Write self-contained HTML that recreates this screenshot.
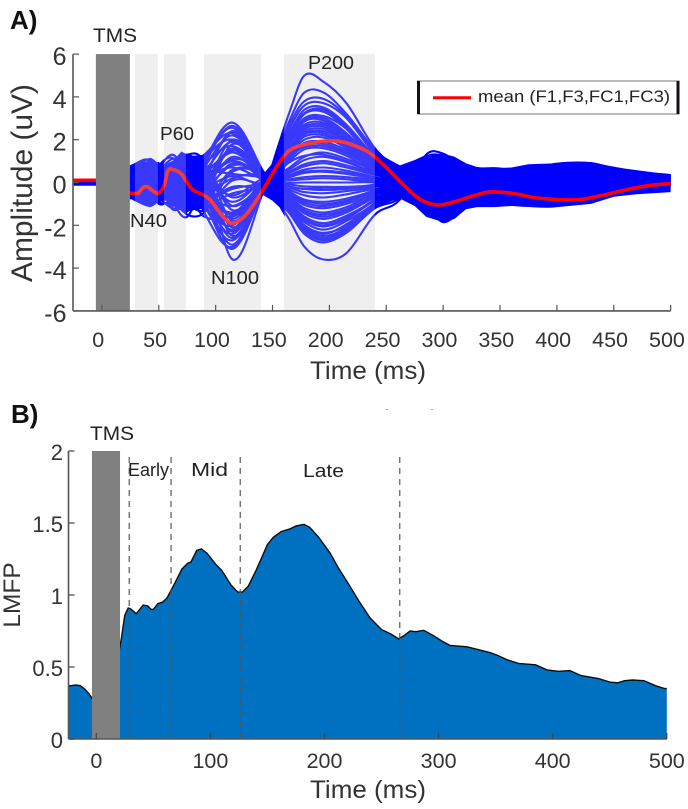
<!DOCTYPE html>
<html lang="en">
<head>
<meta charset="utf-8">
<title>TMS evoked potentials and LMFP</title>
<style>
html,body{margin:0;padding:0;background:#fff;width:688px;height:809px;overflow:hidden}
svg{display:block;filter:blur(.35px)}
text{font-family:"Liberation Sans",sans-serif;fill:#333}
.note{fill:#222}
</style>
</head>
<body>
<svg id="fig" xmlns="http://www.w3.org/2000/svg" width="688" height="809" viewBox="0 0 688 809">
  <g id="a-bands-back"></g>
  <g id="a-envelope"></g>
  <g id="a-channels"></g>
  <g id="a-mean"></g>
  <g id="a-bands-front"></g>
  <g id="a-tms"></g>
  <g id="a-axes"></g>

  <g id="b-area"></g>
  <g id="b-tms"></g>
  <g id="b-dash"></g>
  <g id="b-axes"></g>

  <text x="10" y="29" font-size="26" font-weight="bold" style="fill:#111">A)</text>
  <text x="11" y="423" font-size="26" font-weight="bold" style="fill:#111">B)</text>

  <text transform="translate(32,183) rotate(-90)" text-anchor="middle" font-size="30" textLength="198" lengthAdjust="spacingAndGlyphs">Amplitude (uV)</text>
  <text x="310" y="379" font-size="25" textLength="116" lengthAdjust="spacingAndGlyphs">Time (ms)</text>
  <text transform="translate(20,595) rotate(-90)" text-anchor="middle" font-size="24.5">LMFP</text>
  <text x="310" y="798" font-size="25" textLength="116" lengthAdjust="spacingAndGlyphs">Time (ms)</text>

  <text class="note" x="93" y="42" font-size="19.5" textLength="44" lengthAdjust="spacingAndGlyphs">TMS</text>
  <text class="note" x="308" y="69" font-size="18" textLength="46" lengthAdjust="spacingAndGlyphs">P200</text>
  <text class="note" x="160" y="140" font-size="18" textLength="34" lengthAdjust="spacingAndGlyphs">P60</text>
  <text class="note" x="130" y="227" font-size="18" textLength="37" lengthAdjust="spacingAndGlyphs">N40</text>
  <text class="note" x="211" y="284" font-size="18" textLength="48" lengthAdjust="spacingAndGlyphs">N100</text>

  <g>
    <rect x="417.5" y="81" width="261.5" height="33" fill="#fff" stroke="#777" stroke-width="1"></rect>
    <rect x="417" y="81" width="3" height="33" fill="#1a0f0f"></rect>
    <rect x="676.5" y="81" width="3" height="33" fill="#1a0f0f"></rect>
    <line x1="433" y1="97.7" x2="471" y2="97.7" stroke="#f00" stroke-width="3"></line>
    <text class="note" x="478" y="102" font-size="17" textLength="192" lengthAdjust="spacingAndGlyphs">mean (F1,F3,FC1,FC3)</text>
  </g>

  <text class="note" x="90" y="440" font-size="19.5" textLength="44" lengthAdjust="spacingAndGlyphs">TMS</text>
  <text class="note" x="128" y="476" font-size="18" textLength="41" lengthAdjust="spacingAndGlyphs">Early</text>
  <text class="note" x="191" y="476" font-size="18" textLength="37" lengthAdjust="spacingAndGlyphs">Mid</text>
  <text class="note" x="303" y="477" font-size="18" textLength="41" lengthAdjust="spacingAndGlyphs">Late</text>

  <rect x="386" y="409" width="2" height="1" fill="#aaa"></rect>
  <rect x="431" y="409" width="2" height="1" fill="#aaa"></rect>
</svg>
<script>
// Panel A data
const aXTicks = [0,50,100,150,200,250,300,350,400,450,500];
const aYTicks = [-6,-4,-2,0,2,4,6];
const aBandStart = [29,54.5,89.7,160];
const aBandEnd = [49.2,73.8,139.8,240];
const aTmsWindow = [-5.3,24.6];
// solid portions of the channel bundle: upper and lower edges
const earlyEnvT = [24.6,35,42,50,58,62,70,75,80,90,93];
const earlyEnvUp = [.7,.8,1.1,.85,.9,1.0,1.45,1.3,1.25,1.3,1.3];
const earlyEnvLo = [-.7,-.7,-1.1,-.85,-.85,-1.0,-1.2,-1.25,-1.25,-1.25,-1.25];
const midEnvT = [139,142,150,156,161];
const midEnvUp = [.6,.4,.9,1.1,1.2];
const midEnvLo = [-.6,-.6,-.85,-1.15,-1.6];
const lateEnvT = [245,255,262,275,285,300,310,320,330,345,360,375,400,430,450,470,500];
const lateEnvUp = [1.3,1.0,.8,1.05,1.3,1.35,1.2,.9,.72,.67,.7,.85,.9,.8,.6,.45,.35];
const lateEnvLo = [-1.1,-.85,-.75,-1.1,-1.6,-1.85,-1.7,-1.25,-1.15,-1.15,-1.1,-1.05,-1.15,-1.0,-.67,-.55,-.45];
const channelT = [24.6,42,50,62,75,90,115,142,155,165,178,195,215,240,262,285,300,320,345,375,400,430,460,500];
// each row: pre-stimulus level, then one amplitude per channelT entry
const channels = [
[.08,-.3,-.8,-.6,.6,1.3,.9,-3.6,-.4,1.7,3.3,5.0,4.7,3.7,1.6,.5,-.9,-1.3,-1.0,-.7,-.7,-.8,-.6,-.3,-.05],
[.06,-.5,-.9,-.4,.8,1.1,-.9,-3.1,-.3,1.5,2.9,4.2,4.2,3.2,1.5,.3,-1.1,-1.5,-1.1,-.8,-.8,-.9,-.7,-.4,-.1],
[.02,-.1,-.5,-.2,.5,.9,-1.4,-3.0,-.2,1.3,2.7,3.8,3.9,3.1,1.4,.4,-.9,-1.85,-1.15,-.9,-.9,-1.0,-.65,-.45,-.2],
[-.03,-.6,-1.0,-.7,.2,.6,-1.1,-2.7,-.4,1.1,2.5,3.6,3.7,3.0,1.3,.2,-1.2,-1.6,-1.1,-1.0,-1.1,-1.1,-.6,-.4,-.3],
[.05,.2,.4,.3,.9,1.2,-.4,-2.6,-.3,1.2,2.3,3.4,3.5,2.7,1.2,.3,-.6,-1.0,-.8,-.6,-.5,-.6,-.5,-.2,.0],
[-.02,-.4,.2,-.3,.3,.4,-.8,-2.4,-.1,1.1,2.1,3.2,3.3,2.5,1.0,.2,-.7,-1.3,-.95,-.75,-.7,-.8,-.6,-.3,-.1],
[.04,.3,.5,.6,1.1,.9,.2,-2.3,.1,1.0,2.0,3.0,3.1,2.5,1.1,.4,-.3,-.8,-.6,-.4,-.3,-.45,-.3,-.1,.1],
[-.05,-.2,-.3,.1,.2,.1,-.6,-2.2,-.2,.9,1.9,2.9,3.0,2.3,1.0,.1,-.9,-1.4,-.85,-.65,-.6,-.7,-.55,-.35,-.15],
[.03,.6,1.1,.85,.9,1.3,.6,-2.1,.2,.9,1.8,2.7,2.8,2.2,1.0,.3,-.4,-.7,-.5,-.3,-.2,-.3,-.2,0,.15],
[-.08,-.6,-.5,-.8,-.4,-.2,-1.2,-2.0,-.1,.8,1.6,2.5,2.6,2.0,.9,.2,-.5,-1.1,-.7,-.55,-.5,-.6,-.45,-.25,-.05],
[.02,.1,-.2,.2,.5,.7,-.3,-1.9,.0,.7,1.5,2.3,2.4,1.9,.8,.1,-.6,-1.0,-.6,-.45,-.4,-.5,-.35,-.15,.05],
[-.04,.5,.7,.5,.7,1.0,.3,-1.7,.15,.75,1.5,2.25,2.3,1.8,.75,.35,-.2,-.6,-.35,-.25,-.1,-.2,-.1,.1,.2],
[.01,-.3,-.7,-.5,-.1,.1,-.9,-1.6,-.2,.6,1.3,2.0,2.1,1.6,.7,.05,-.7,-.9,-.55,-.4,-.35,-.4,-.3,-.2,-.05],
[.06,-.7,-1.1,-.85,-.6,-.5,-1.6,-1.5,.1,.55,1.2,1.85,1.9,1.5,.6,.15,-.35,-.75,-.45,-.3,-.25,-.3,-.2,-.05,.1],
[-.06,.0,.1,-.1,.1,.3,-.5,-1.4,-.1,.5,1.1,1.75,1.8,1.4,.55,.0,-.55,-.85,-.5,-.35,-.3,-.35,-.25,-.1,.02],
[.03,.35,.3,.7,1.3,.6,.8,-1.3,.05,.45,1.0,1.55,1.6,1.25,.5,.2,-.1,-.5,-.25,-.15,-.05,-.1,.0,.1,.25],
[-.02,-.15,-.4,-.35,-.25,-.4,-.6,-1.1,-.15,.35,.7,1.2,1.4,1.1,.55,.05,-.3,-.45,-.55,-.35,-.25,-.2,-.25,-.15,.0],
[.04,.45,.8,.4,.4,.5,.2,-.9,.1,.3,.6,1.05,1.2,.95,.45,.1,-.1,-.2,-.3,-.15,-.05,.05,.0,.05,.2],
[-.07,-.45,-.3,-.6,-.9,-1.0,-.8,-1.4,-.2,.25,.5,.85,1.0,.8,.4,-.1,-.25,-.35,-.5,-.3,-.2,-.15,-.15,-.1,.05],
[.05,.15,.0,.35,.65,.2,.1,-.6,.2,.2,.45,.75,.9,.7,.35,.15,.05,.05,-.2,-.1,.0,.1,.1,.12,.25],
[-.01,-.25,-.6,-.15,-.5,-.7,-.9,-.3,-.05,.15,.35,.6,.7,.55,.25,-.05,-.15,-.25,-.4,-.2,-.1,-.05,.02,.0,.1],
[.07,.7,.95,.75,.5,.8,.6,.4,.25,.15,.25,.45,.5,.4,.2,.2,.2,.2,-.05,.05,.1,.2,.2,.22,.28],
[-.03,-.05,-.15,-.45,-.75,-.9,-1.1,-.5,-.25,.05,.15,.25,.3,.25,.1,-.15,-.1,-.1,-.25,-.1,.02,.05,.1,.08,.15],
[.02,.25,.6,.1,.05,.25,.3,.7,.15,.05,.1,.15,.2,.15,.05,.1,.3,.3,.1,.15,.2,.3,.3,.3,.32],
[-.09,-.35,-.8,-.75,-1.2,-1.1,-1.3,.1,-.1,-.05,-.02,.0,.0,.0,.0,-.2,-.05,.05,-.1,.02,.08,.15,.2,.15,.05],
[.04,.4,.2,.55,.0,.0,.1,1.0,.3,-.1,-.1,-.18,-.2,-.2,-.1,.25,.4,.45,.25,.25,.3,.4,.42,.38,.3],
[-.04,-.55,-.65,-.95,-1.0,-1.3,-1.0,-.2,-.3,-.12,-.2,-.3,-.35,-.3,-.15,-.1,.1,.2,.0,.1,.18,.25,.3,.25,.1],
[.01,.55,.35,.8,.15,-.3,-.2,1.2,.25,-.15,-.25,-.45,-.5,-.4,-.2,.2,.5,.55,.35,.3,.35,.5,.55,.45,.3],
[-.06,-.65,-.2,-1.0,-.8,-.75,-.6,.2,.35,-.2,-.35,-.6,-.7,-.55,-.3,-.2,.15,.3,.15,.15,.22,.3,.38,.3,.15],
[.03,.05,.55,.25,-.3,.4,.5,1.4,.3,-.25,-.45,-.8,-.9,-.75,-.35,.3,.6,.65,.45,.38,.4,.55,.62,.5,.25],
[-.05,-.7,-.95,-.5,-.65,-1.5,-1.4,.5,.4,-.3,-.55,-.95,-1.1,-.9,-.45,-.25,.25,.4,.2,.2,.28,.38,.45,.35,.2],
[.06,.65,.75,.05,-1.1,-.1,.1,1.6,.35,-.35,-.6,-1.05,-1.2,-1.0,-.5,.25,.7,.75,.55,.42,.45,.6,.68,.52,.3],
[-.02,-.2,.05,-.25,-.45,-.6,-.3,.8,.45,-.4,-.7,-1.2,-1.4,-1.15,-.55,-.3,.35,.5,.3,.25,.32,.45,.5,.38,.18],
[.02,.3,.45,.45,-.75,-1.05,-.7,1.8,.4,-.45,-.8,-1.35,-1.6,-1.3,-.65,.35,.8,.85,.6,.48,.5,.68,.75,.55,.33],
[-.1,-.75,-.45,-.7,-.2,-.35,.1,1.1,.5,-.45,-.85,-1.45,-1.7,-1.4,-.7,-.35,.45,.7,.4,.3,.38,.55,.58,.42,.22],
[.05,.1,-.05,.65,-.95,-1.2,-.3,2.0,.45,-.5,-.95,-1.6,-1.9,-1.55,-.8,.3,.9,.95,.6,.5,.55,.75,.8,.58,.3],
[-.07,-.1,-.85,-.3,-.35,.0,.4,1.4,.5,-.55,-1.0,-1.75,-2.05,-1.7,-.85,-.4,.55,.8,.5,.35,.42,.6,.65,.48,.25],
[.01,.2,.65,.15,-1.25,-.8,.7,2.2,.5,-.6,-1.1,-1.85,-2.2,-1.8,-.95,.2,1.0,1.05,.65,.55,.6,.8,.85,.6,.32],
[-.03,-.35,-.35,-.9,-.05,.2,.9,1.7,.45,-.65,-1.15,-2.0,-2.4,-1.95,-1.0,-.5,.7,.9,.55,.4,.45,.68,.72,.5,.2],
[.03,.5,.15,.9,-.85,-1.6,.2,2.4,.5,-.7,-1.25,-2.1,-2.5,-2.1,-1.05,.1,1.1,1.15,.7,.6,.62,.85,.88,.55,.35],
[-.04,-.5,-.75,-.05,.35,-.25,1.1,2.0,.4,-.75,-1.3,-2.2,-2.6,-2.15,-1.1,-.6,.85,1.0,.6,.45,.5,.72,.8,.5,.28],
[.02,.7,.9,.6,-.55,-1.35,.8,2.65,.5,-.8,-1.4,-2.3,-2.7,-2.25,-1.15,.0,1.2,1.25,.75,.62,.6,.88,.9,.52,.3],
[-.05,.0,-.2,-.55,.1,.5,1.3,2.3,.45,-.85,-1.45,-2.4,-2.8,-2.35,-1.2,-.7,1.0,1.1,.65,.5,.55,.75,.85,.48,.22],
[.0,.75,1.05,.2,-.15,-1.0,1.0,2.8,.5,-.9,-1.75,-3.0,-3.6,-3.3,-1.5,-.8,1.3,1.35,.7,.67,.55,.8,.9,.5,.34],
[.05,.25,-.4,.75,1.15,.3,.9,-1.8,.1,.95,1.8,2.6,2.7,2.1,.95,.25,-.55,-.85,-.6,-.4,-.3,-.35,-.3,-.1,.08],
[-.02,-.1,.35,-.05,.55,-.4,.5,-2.5,-.1,1.0,1.85,2.85,2.9,2.25,1.0,.15,-.75,-1.1,-.8,-.55,-.5,-.55,-.45,-.2,-.05],
[.03,.45,.05,.45,.95,.75,-.2,-1.5,.0,.85,1.65,2.4,2.5,1.95,.85,.3,-.3,-.65,-.45,-.25,-.2,-.3,-.2,-.02,.12],
[-.06,-.55,-.25,-.2,.05,.55,-.7,-2.9,-.2,1.15,2.2,3.25,3.4,2.6,1.15,.2,-1.0,-1.25,-.9,-.7,-.65,-.7,-.6,-.3,-.12],
[.01,.15,.55,.35,.3,.15,.7,-1.1,.05,.75,1.4,2.15,2.2,1.7,.7,.25,-.25,-.55,-.35,-.2,-.1,-.15,-.05,.05,.18],
[-.03,-.25,-.55,.0,-.15,.05,-.1,-2.3,-.1,.6,1.2,1.65,1.7,1.35,.6,.0,-.6,-.85,-.65,-.45,-.4,-.45,-.35,-.2,-.02],
[.02,.35,-.1,.15,.75,-.15,.45,-.7,.1,.5,.95,1.25,1.3,1.0,.45,.1,-.2,-.3,-.4,-.2,-.1,-.05,-.05,.05,.15],
[-.04,-.4,.15,-.65,-.55,.35,-.15,.3,-.15,.1,.3,.5,.55,.45,.2,-.1,-.05,.0,-.15,-.05,.05,.1,.12,.1,.18],
[.03,.6,.45,.65,.25,-.55,-.45,.9,.2,-.1,-.2,-.3,-.25,-.25,-.1,.15,.3,.35,.2,.2,.28,.35,.35,.3,.25],
[-.02,.05,-.5,-.85,-.6,-.2,.0,1.5,.35,-.3,-.55,-.85,-1.0,-.85,-.4,-.2,.5,.6,.35,.32,.35,.5,.48,.4,.15],
[.04,-.6,.85,.3,-.4,-.65,-.9,.6,.45,-.4,-.75,-1.3,-1.5,-1.25,-.6,.2,.65,.75,.5,.42,.48,.62,.6,.45,.3],
[-.05,.3,-.75,.5,-.1,.1,.55,1.9,.4,-.55,-1.0,-1.7,-2.0,-1.65,-.8,-.35,.75,.85,.55,.4,.5,.7,.75,.5,.26],
[.02,-.3,.25,-.4,.2,-.95,.3,2.35,.5,-.65,-1.2,-2.0,-2.35,-2.0,-.95,.05,.95,1.05,.65,.55,.58,.78,.82,.55,.3],
[-.01,.55,-.65,.7,-.7,.75,1.2,2.55,.45,-.8,-1.35,-2.25,-2.65,-2.2,-1.1,-.5,1.05,1.15,.6,.58,.6,.82,.86,.5,.32]
];
const meanT = [24.6,32,36,40,45,50,55,58,63,70,75,80,88,95,105,114,125,135,145,155,165,180,200,215,235,250,265,280,295,310,325,340,360,380,400,420,440,460,480,500];
const meanV = [-.5,-.5,-.25,-.2,-.4,-.5,-.1,.55,.6,.4,.0,-.35,-.55,-.8,-1.5,-1.9,-1.6,-.9,-.05,.85,1.5,1.8,1.95,1.85,1.4,.7,-.1,-.8,-1.05,-.9,-.65,-.45,-.5,-.7,-.8,-.8,-.6,-.35,-.15,-.05];
const meanPre = 0.1;

// Panel B data
const bXTicks = [0,100,200,300,400,500];
const bYTicks = [0,0.5,1,1.5,2];
const bYTickLabels = ["0","0.5","1","1.5","2"];
const bTmsWindow = [-3.8,20.8];
const bDividers = [28.9,65.5,126.2,265.9];
const lmfpT = [-24.4,-22,-18,-14,-10,-6,-4,20,22,25,28,30,35,38,41,45,48,50,54,58,62,68,75,80,83,88,92,97,105,110,118,124,128,133,140,150,155,162,170,175,182,187,195,205,212,220,230,240,250,258,265,270,275,280,287,295,303,310,325,335,345,352,360,370,385,395,405,415,425,440,450,457,463,470,480,490,498,500];
const lmfpV = [.37,.37,.375,.37,.345,.31,.285,.61,.7,.86,.91,.905,.87,.9,.93,.925,.9,.9,.94,.95,.98,1.07,1.18,1.22,1.23,1.31,1.32,1.29,1.21,1.17,1.07,1.02,1.02,1.06,1.17,1.35,1.4,1.44,1.46,1.48,1.49,1.47,1.4,1.29,1.19,1.09,.96,.84,.76,.73,.695,.72,.75,.745,.755,.72,.68,.65,.64,.62,.6,.58,.55,.525,.515,.48,.47,.475,.44,.42,.395,.39,.405,.41,.405,.37,.35,.35];

// Axis functions
const aX = t => 101.9 + 1.1375 * t;
const aY = v => 182.5 - 21.4 * v;
const bX = t => 96.3 + 1.141 * t;
const bY = v => 739 - 144 * v;
const aLeft = 73, aRight = aX(500), aTop = aY(6), aBottom = aY(-6);
const bLeft = 68.5, bRight = bX(500), bTop = bY(2), bBottom = bY(0);

const NS = 'http://www.w3.org/2000/svg';
function make(tag, attrs, parent) {
  const el = document.createElementNS(NS, tag);
  for (const k in attrs) el.setAttribute(k, attrs[k]);
  parent.appendChild(el);
  return el;
}
function smoothPath(xs, ys) {
  const slope = i => {
    const a = Math.max(0, i - 1), b = Math.min(xs.length - 1, i + 1);
    return (ys[b] - ys[a]) / (xs[b] - xs[a]);
  };
  let d = `L${xs[0].toFixed(1)} ${ys[0].toFixed(1)}`;
  for (let i = 0; i < xs.length - 1; i++) {
    const h = xs[i + 1] - xs[i];
    const c1y = ys[i] + slope(i) * h / 3, c2y = ys[i + 1] - slope(i + 1) * h / 3;
    d += `C${(xs[i] + h / 3).toFixed(1)} ${c1y.toFixed(1)} ${(xs[i + 1] - h / 3).toFixed(1)} ${c2y.toFixed(1)} ${xs[i + 1].toFixed(1)} ${ys[i + 1].toFixed(1)}`;
  }
  return d;
}
const byId = id => document.getElementById(id);

// Window bands
aBandStart.forEach((s, i) => {
  const x = aX(s), w = aX(aBandEnd[i]) - x;
  const back = make('rect', {x: x, y: aTop, width: w, height: aBottom - aTop, fill: '#f0f0f0'}, byId('a-bands-back'));
  
  
  const front = make('rect', {x: x, y: aTop, width: w, height: aBottom - aTop, fill: '#f0f0f0', 'fill-opacity': 0.24}, byId('a-bands-front'));
  
  
});

// Solid envelope sections
function drawEnvelope(ts, up, lo) {
  const top = ts.map((t, i) => `${aX(t).toFixed(1)} ${aY(up[i]).toFixed(1)}`);
  const bot = ts.map((t, i) => `${aX(t).toFixed(1)} ${aY(lo[i]).toFixed(1)}`).reverse();
  const p = make('path', {d: 'M' + top.concat(bot).join('L') + 'Z', fill: '#0000ff'}, byId('a-envelope'));
  
  
}
drawEnvelope(earlyEnvT, earlyEnvUp, earlyEnvLo);
drawEnvelope(midEnvT, midEnvUp, midEnvLo);
drawEnvelope(lateEnvT, lateEnvUp, lateEnvLo);

// Channel traces
channels.forEach(row => {
  const pre = row[0], vals = row.slice(1);
  const d = `M${aX(-25.5)} ${aY(pre)}L${aX(-3)} ${aY(pre)}M` + smoothPath(channelT.map(aX), vals.map(aY)).slice(1);
  const p = make('path', {d: d, fill: 'none', stroke: '#0000ff', 'stroke-width': 2.1}, byId('a-channels'));
  
  
});

// Mean trace
{
  const d = `M${aX(-25.5)} ${aY(meanPre)}L${aX(-3)} ${aY(meanPre)}M` + smoothPath(meanT.map(aX), meanV.map(aY)).slice(1);
  const p = make('path', {d: d, fill: 'none', stroke: '#ff0000', 'stroke-width': 3.6}, byId('a-mean'));
  
  
}

// TMS block A
{
  const r = make('rect', {x: aX(aTmsWindow[0]), y: aTop, width: aX(aTmsWindow[1]) - aX(aTmsWindow[0]), height: aBottom - aTop, fill: '#808080'}, byId('a-tms'));
  
  
}

// Axes A
{
  const g = byId('a-axes');
  const yl = make('line', {x1: aLeft, y1: aTop, x2: aLeft, y2: aBottom, stroke: '#555', 'stroke-width': 1.6}, g);
  
  
  const xl = make('line', {x1: aLeft, y1: aBottom, x2: aRight, y2: aBottom, stroke: '#555', 'stroke-width': 1.6}, g);
  
  
  aXTicks.forEach(t => {
    const tk = make('line', {x1: aX(t), y1: aBottom, x2: aX(t), y2: aBottom - 6, stroke: '#555', 'stroke-width': 1.2}, g);
    
    
    const lb = make('text', {x: aX(t) - 3.7, y: 347, 'text-anchor': 'middle', 'font-size': 21.5}, g);
    
    
    lb.textContent = String(t);
  });
  aYTicks.forEach(v => {
    const tk = make('line', {x1: aLeft, y1: aY(v), x2: aLeft + 6, y2: aY(v), stroke: '#555', 'stroke-width': 1.2}, g);
    
    
    const lb = make('text', {x: 66.5, y: aY(v) + 11, 'text-anchor': 'end', 'font-size': 25}, g);
    
    
    lb.textContent = String(v);
  });
}

// LMFP area
{
  const xs = lmfpT.map(bX), ys = lmfpV.map(bY);
  const pts = xs.map((x, i) => `${x.toFixed(1)} ${ys[i].toFixed(1)}`).join('L');
  const area = make('path', {d: `M${bX(-24.4)} ${bY(0)}L${pts}L${bX(500)} ${bY(0)}Z`, fill: '#0070c0'}, byId('b-area'));
  
  
  const line = make('path', {d: `M${pts}`, fill: 'none', stroke: '#0d0d0d', 'stroke-width': 1.4}, byId('b-area'));
  
  
}

// TMS block B
{
  const r = make('rect', {x: bX(bTmsWindow[0]), y: bTop, width: bX(bTmsWindow[1]) - bX(bTmsWindow[0]), height: bBottom - bTop, fill: '#808080'}, byId('b-tms'));
  
  
}

// Dashed dividers
bDividers.forEach(t => {
  const l = make('line', {x1: bX(t), y1: 457, x2: bX(t), y2: bBottom, stroke: '#555', 'stroke-width': 1.5, 'stroke-dasharray': '6 5', 'stroke-opacity': 0.8}, byId('b-dash'));
  
  
});

// Axes B
{
  const g = byId('b-axes');
  const yl = make('line', {x1: bLeft, y1: bTop, x2: bLeft, y2: bBottom, stroke: '#555', 'stroke-width': 1.6}, g);
  
  
  const xl = make('line', {x1: bLeft, y1: bBottom, x2: bRight, y2: bBottom, stroke: '#555', 'stroke-width': 1.6}, g);
  
  
  bXTicks.forEach(t => {
    const tk = make('line', {x1: bX(t), y1: bBottom, x2: bX(t), y2: bBottom - 6, stroke: '#444', 'stroke-width': 1.2}, g);
    
    
    const lb = make('text', {x: bX(t), y: 768, 'text-anchor': 'middle', 'font-size': 21.5}, g);
    
    
    lb.textContent = String(t);
  });
  bYTicks.forEach((v, i) => {
    const tk = make('line', {x1: bLeft, y1: bY(v), x2: bLeft + 6, y2: bY(v), stroke: '#444', 'stroke-width': 1.2}, g);
    
    
    const lb = make('text', {x: 63, y: bY(v) + 9, 'text-anchor': 'end', 'font-size': 22}, g);
    
    
    lb.textContent = bYTickLabels[i];
  });
}
</script>
</body>
</html>
